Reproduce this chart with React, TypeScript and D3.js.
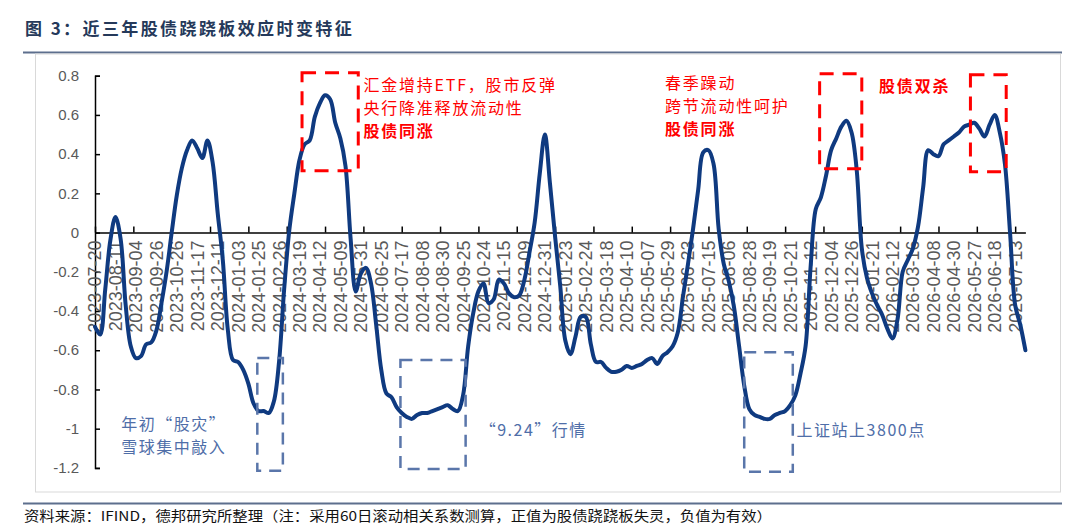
import React, { useEffect, useRef } from "react";
import * as d3 from "d3";

// one value every 4 trading days, 60-day rolling correlation
const sampleStep = 4;
const labelEvery = 16; // trading days between date labels
const tickEvery = 30; // trading days between axis tick marks

const dateLabels = [
    "2023-07-20", "2023-08-11", "2023-09-04", "2023-09-26", "2023-10-26", "2023-11-17",
    "2023-12-11", "2024-01-03", "2024-01-25", "2024-02-26", "2024-03-19", "2024-04-12",
    "2024-05-09", "2024-05-31", "2024-06-25", "2024-07-17", "2024-08-08", "2024-08-30",
    "2024-09-25", "2024-10-24", "2024-11-15", "2024-12-09", "2024-12-31", "2025-01-23",
    "2025-02-24", "2025-03-18", "2025-04-10", "2025-05-07", "2025-05-29", "2025-06-23",
    "2025-07-15", "2025-08-06", "2025-08-28", "2025-09-19", "2025-10-21", "2025-11-12",
    "2025-12-04", "2025-12-26", "2026-01-21", "2026-02-12", "2026-03-16", "2026-04-08",
    "2026-04-30", "2026-05-27", "2026-06-18", "2026-07-13"
];

const correlation = [
    -0.48, -0.52, -0.29, -0.04, 0.08, -0.03, -0.37, -0.58, -0.64, -0.63,
    -0.57, -0.56, -0.50, -0.36, -0.20, 0.00, 0.19, 0.33, 0.42, 0.47,
    0.43, 0.38, 0.47, 0.36, 0.10, -0.14, -0.50, -0.65, -0.66, -0.70,
    -0.77, -0.87, -0.91, -0.91, -0.92, -0.86, -0.66, -0.29, 0.01, 0.20,
    0.37, 0.45, 0.47, 0.59, 0.66, 0.70, 0.68, 0.56,
    0.48, 0.34, -0.03, -0.30, -0.21, -0.18, -0.26, -0.47, -0.70, -0.82,
    -0.84, -0.89, -0.92, -0.94, -0.95, -0.93, -0.92, -0.92, -0.91, -0.90,
    -0.89, -0.88, -0.90, -0.91, -0.83, -0.58, -0.41, -0.30, -0.26, -0.36,
    -0.34, -0.24, -0.26, -0.31, -0.33, -0.32, -0.24, -0.10, 0.05, 0.30,
    0.50, 0.25, -0.02, -0.27, -0.55,
    -0.62, -0.53, -0.43, -0.43, -0.57, -0.66, -0.66, -0.69, -0.71, -0.71,
    -0.70, -0.68, -0.69, -0.68, -0.67, -0.65, -0.64, -0.67, -0.63, -0.61,
    -0.58, -0.51, -0.33, -0.16, 0.02, 0.22, 0.41, 0.42, 0.35, 0.02,
    -0.16, -0.25, -0.38, -0.58, -0.78, -0.90, -0.93, -0.94, -0.95, -0.95,
    -0.93, -0.92, -0.91, -0.88, -0.83, -0.72,
    -0.58, -0.17, 0.12, 0.18, 0.29, 0.42, 0.48, 0.54, 0.57, 0.51,
    0.32, -0.08, -0.23, -0.31, -0.37, -0.42, -0.49, -0.54, -0.44, -0.20,
    -0.14, -0.08, 0.03, 0.23, 0.42, 0.40, 0.39, 0.45, 0.47, 0.49,
    0.51, 0.54, 0.55, 0.56, 0.53, 0.49, 0.55, 0.60, 0.51, 0.35,
    0.00, -0.37, -0.47, -0.60
];

const yTicks = [0.8, 0.6, 0.4, 0.2, 0, -0.2, -0.4, -0.6, -0.8, -1, -1.2];

// highlighted periods: trading-day range and value range
const redBoxes = [
    { from: 162, to: 206, low: 0.315, high: 0.815 },
    { from: 567, to: 600, low: 0.325, high: 0.81 },
    { from: 685, to: 713, low: 0.31, high: 0.805 }
];
const blueBoxes = [
    { from: 127, to: 147, low: -1.215, high: -0.64 },
    { from: 239, to: 290, low: -1.205, high: -0.65 },
    { from: 508, to: 546, low: -1.22, high: -0.61 }
];

const redNotes = [
    { at: 210, value: 0.723, lines: ["汇金增持ETF，股市反弹", "央行降准释放流动性"], bold: "股债同涨" },
    { at: 446, value: 0.733, lines: ["春季躁动", "跨节流动性呵护"], bold: "股债同涨" },
    { at: 613.5, value: 0.718, lines: [], bold: "股债双杀" }
];
const blueNotes = [
    { at: 20.5, value: -1.005, lines: ["年初“股灾”", "雪球集中敲入"] },
    { at: 301, value: -1.035, lines: ["“9.24”行情"] },
    { at: 549, value: -1.037, lines: ["上证站上3800点"] }
];

const W = 1080;
const H = 532;
const cjk = "'Noto Sans CJK SC', 'Noto Sans', sans-serif";
const latin = "'Liberation Sans', Arial, sans-serif";

const App: React.FC = () => {
    const svgRef = useRef<SVGSVGElement>(null);

    useEffect(() => {
        if (!svgRef.current) return;
        const svg = d3.select(svgRef.current);
        svg.selectAll("*").remove();

        const lastDay = (correlation.length - 1) * sampleStep;
        const x = d3.scaleLinear().domain([0, lastDay]).range([95, 95 + lastDay * 1.278]);
        const y = d3.scaleLinear().domain([-1.2, 0.8]).range([467.9, 75.7]);

        svg.append("rect").attr("width", W).attr("height", H).attr("fill", "#fff");

        // title + rules
        svg.append("text")
            .attr("x", 25).attr("y", 35)
            .attr("font-family", cjk).attr("font-weight", 700)
            .attr("font-size", 17).attr("letter-spacing", 2.4)
            .attr("fill", "#25395a")
            .text("图 3：近三年股债跷跷板效应时变特征");
        svg.append("line").attr("x1", 23).attr("x2", 1062).attr("y1", 52.5).attr("y2", 52.5)
            .attr("stroke", "#5d6f8d").attr("stroke-width", 2);
        svg.append("rect").attr("x", 35.5).attr("y", 54).attr("width", 1025).attr("height", 438)
            .attr("fill", "none").attr("stroke", "#d9d9d9").attr("stroke-width", 1);
        svg.append("line").attr("x1", 23).attr("x2", 1062).attr("y1", 503.5).attr("y2", 503.5)
            .attr("stroke", "#5d6f8d").attr("stroke-width", 2);
        svg.append("text")
            .attr("x", 24).attr("y", 521)
            .attr("font-family", cjk).attr("font-size", 13.5).attr("fill", "#111")
            .attr("textLength", 748).attr("lengthAdjust", "spacingAndGlyphs")
            .text("资料来源：IFIND，德邦研究所整理（注：采用60日滚动相关系数测算，正值为股债跷跷板失灵，负值为有效）");

        // y axis
        const yAxis = svg.append("g").attr("transform", `translate(${x(0)},0)`)
            .call(d3.axisRight(y).tickValues(yTicks).tickSize(5).tickFormat(() => ""));
        yAxis.select(".domain").attr("stroke", "#000").attr("stroke-width", 1.5);
        yAxis.selectAll("line").attr("stroke", "#000").attr("stroke-width", 1.5);
        svg.append("g").selectAll("text")
            .data(yTicks).enter().append("text")
            .attr("x", 79).attr("y", d => y(d)).attr("dy", "0.35em")
            .attr("text-anchor", "end")
            .attr("font-family", latin).attr("font-size", 15).attr("fill", "#595959")
            .text(d => String(d));

        // x axis on the zero line
        const tickDays = d3.range(0, lastDay + 1, tickEvery);
        const xAxis = svg.append("g").attr("transform", `translate(0,${y(0)})`)
            .call(d3.axisTop(x).tickValues(tickDays).tickSize(6).tickSizeOuter(0).tickFormat(() => ""));
        xAxis.select(".domain").attr("stroke", "#000").attr("stroke-width", 1.5);
        xAxis.selectAll("line").attr("stroke", "#000").attr("stroke-width", 1.5);
        svg.append("g").selectAll("text")
            .data(dateLabels).enter().append("text")
            .attr("transform", (_, i) => `translate(${x(i * labelEvery)},${y(0) + 8}) rotate(-90)`)
            .attr("dy", "0.36em")
            .attr("text-anchor", "end")
            .attr("font-family", latin).attr("font-size", 18).attr("fill", "#595959")
            .text(d => d);

        // series
        const line = d3.line<number>()
            .x((_, i) => x(i * sampleStep))
            .y(d => y(d))
            .curve(d3.curveCatmullRom.alpha(0.5));
        svg.append("path")
            .datum(correlation)
            .attr("d", line)
            .attr("fill", "none")
            .attr("stroke", "#0f3a80")
            .attr("stroke-width", 4)
            .attr("stroke-linejoin", "round")
            .attr("stroke-linecap", "round");

        // dashed boxes
        svg.append("g").selectAll("rect")
            .data(redBoxes).enter().append("rect")
            .attr("x", d => x(d.from)).attr("y", d => y(d.high))
            .attr("width", d => x(d.to) - x(d.from)).attr("height", d => y(d.low) - y(d.high))
            .attr("fill", "none").attr("stroke", "#ff0000").attr("stroke-width", 3)
            .attr("stroke-dasharray", "14,9");
        svg.append("g").selectAll("rect")
            .data(blueBoxes).enter().append("rect")
            .attr("x", d => x(d.from)).attr("y", d => y(d.high))
            .attr("width", d => x(d.to) - x(d.from)).attr("height", d => y(d.low) - y(d.high))
            .attr("fill", "none").attr("stroke", "#5a76aa").attr("stroke-width", 2.5)
            .attr("stroke-dasharray", "12,8");

        // notes
        redNotes.forEach(n => {
            const g = svg.append("g").attr("transform", `translate(${x(n.at)},${y(n.value)})`);
            n.lines.forEach((t, i) => {
                g.append("text").attr("y", i * 23.3)
                    .attr("font-family", cjk).attr("font-size", 16).attr("letter-spacing", 1.8)
                    .attr("fill", "#ff0000").text(t);
            });
            g.append("text").attr("y", n.lines.length * 23.3)
                .attr("font-family", cjk).attr("font-size", 16).attr("font-weight", 700)
                .attr("letter-spacing", 1.8).attr("fill", "#ff0000").text(n.bold);
        });
        blueNotes.forEach(n => {
            const g = svg.append("g").attr("transform", `translate(${x(n.at)},${y(n.value)})`);
            n.lines.forEach((t, i) => {
                g.append("text").attr("y", i * 23.5)
                    .attr("font-family", cjk).attr("font-size", 16).attr("letter-spacing", 1.5)
                    .attr("fill", "#4f6ea8").text(t);
            });
        });
    }, []);

    return (
        <svg
            ref={svgRef}
            width={W}
            height={H}
            style={{ position: "absolute", top: 0, left: 0 }}
        ></svg>
    );
};

export default App;
